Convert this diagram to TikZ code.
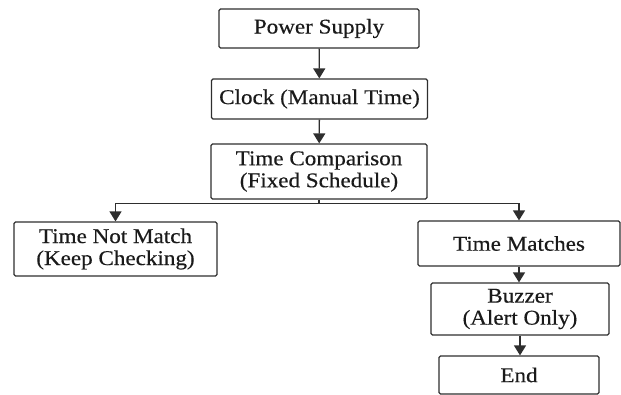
\documentclass[tikz,border=0pt]{standalone}
\usepackage{fontspec}
\usetikzlibrary{arrows.meta}
\newfontfamily\tnr[FakeStretch=1.1,FakeBold=0.4]{Liberation Serif}
\definecolor{linec}{HTML}{2E2E2E}
\definecolor{textc}{HTML}{1A1A1A}
\tikzset{
  stepbox/.style={draw=linec, line width=1.2pt, rounded corners=1.5pt, inner sep=0pt,
    align=center, text=textc, font=\tnr\fontsize{21}{22}\selectfont},
  flow/.style={draw=linec, line width=1.3pt, -{Triangle[length=10pt,width=12pt]}},
  plain/.style={draw=linec, line width=1.3pt}
}
\begin{document}
\begin{tikzpicture}[x=1pt,y=-1pt]
\useasboundingbox (0,0) rectangle (621,395);
\node[stepbox, minimum width=200pt, minimum height=39pt] (ps) at (319,28.5) {Power Supply};
\node[stepbox, minimum width=216pt, minimum height=40pt] (clk) at (319.5,99) {Clock (Manual Time)};
\node[stepbox, minimum width=216pt, minimum height=55pt] (tc) at (319,171.5) {Time Comparison\\(Fixed Schedule)};
\node[stepbox, minimum width=203pt, minimum height=54pt] (tnm) at (115.5,249) {Time Not Match\\(Keep Checking)};
\node[stepbox, minimum width=202pt, minimum height=45pt] (tm) at (519,243.5) {Time Matches};
\node[stepbox, minimum width=178pt, minimum height=52pt] (bz) at (520,309) {Buzzer\\(Alert Only)};
\node[stepbox, minimum width=160pt, minimum height=38pt] (en) at (519,375) {End};
\coordinate (j) at (319,203.5);
\draw[flow] (ps) -- (clk);
\draw[flow] (clk) -- (tc);
\draw[plain] (tc.south) -- (j);
\draw[flow] (j) -| (tnm.north);
\draw[flow] (j) -| (tm.north);
\draw[flow] (tm.south) -- (tm.south |- bz.north);
\draw[flow] (bz.south) -- (bz.south |- en.north);
\end{tikzpicture}
\end{document}
